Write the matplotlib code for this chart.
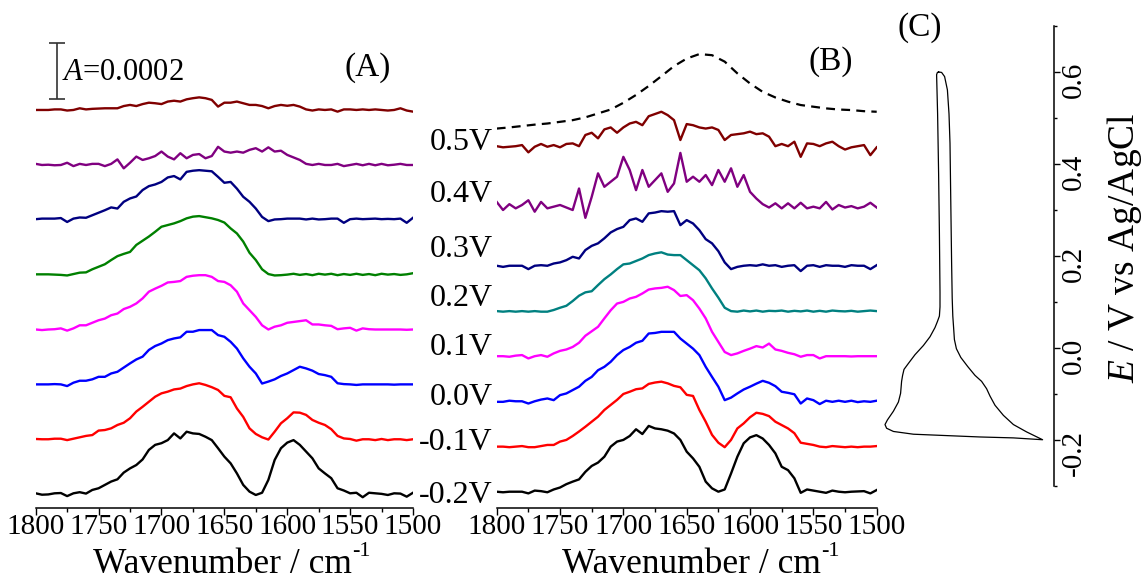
import numpy as np
import matplotlib
matplotlib.use("Agg")
import matplotlib.pyplot as plt
from matplotlib.ticker import MultipleLocator, FormatStrFormatter

plt.rcParams.update({
    "font.family": "Liberation Serif",
    "mathtext.fontset": "custom",
    "mathtext.rm": "Liberation Serif",
    "mathtext.it": "Liberation Serif:italic",
    "axes.unicode_minus": False,
})

# ---------------------------------------------------------------- data
# wavenumber grid (cm^-1), 1800 -> 1500 in 5 cm^-1 steps
wavenumber = np.arange(1800, 1495, -5)
# coarser grid for the dashed reference band
wavenumber_ref = np.arange(1800, 1495, -10)

# absorbance changes in units of 1e-5, panel (A), -0.2 V ... 0.5 V
a_n02 = [0, -0.5, -0.4, 0, 0.1, -1.0, 0, 0.4, -0.1, 1.2,
         1.8, 3.0, 4.2, 5.0, 7.4, 8.9, 10.1, 12.1, 15.5, 17.3,
         17.9, 19.0, 21.4, 19.6, 22.0, 21.4, 21.2, 20.2, 19.0, 16.1,
         13.1, 10.7, 7.1, 3.0, 0.6, -0.6, 0.2, 4.8, 11.9, 16.1,
         18.1, 19.0, 17.3, 14.9, 12.5, 8.9, 7.1, 5.4, 1.8, 1.0,
         0, 0.2, -1.4, 0.2, 0, -0.2, -0.6, 0, -0.1, -1.2, 0.2]
a_n01 = [0, -0.1, -0.1, 0.1, 0.1, -0.4, 0.1, 0.6, 1.1, 1.4,
         3.0, 3.2, 3.8, 5.0, 5.8, 7.4, 9.8, 11.5, 13.3, 15.1,
         16.3, 16.9, 17.7, 18.0, 18.9, 19.5, 19.9, 19.3, 18.5, 17.5,
         15.4, 14.9, 10.9, 7.9, 3.8, 1.8, 0.6, -0.2, 2.6, 5.6,
         7.4, 9.5, 9.4, 8.6, 6.8, 5.8, 5.0, 3.5, 1.1, 0.2,
         0, -0.6, -0.1, -0.1, -0.4, 0, -0.4, -0.1, -0.1, -0.4, -0.1]
a_p00 = [0, 0, 0, 0.1, 0, -0.6, 0.6, 1.3, 1.3, 1.8,
         2.7, 2.7, 3.9, 4.5, 6.0, 7.5, 8.9, 9.9, 12.3, 13.7,
         14.6, 15.8, 16.4, 16.8, 18.8, 18.8, 19.4, 19.4, 19.4, 17.6,
         17.0, 15.2, 12.8, 9.3, 6.3, 3.9, 0.3, 1.0, 1.8, 3.0,
         3.9, 5.1, 6.3, 5.7, 4.9, 3.7, 3.3, 2.7, 0.4, 0.1,
         0, -0.2, 0, 0, 0, 0, 0, -0.1, 0, 0, 0]
a_p01 = [0, -0.2, 0, 0.1, 0.4, -0.4, 0.4, 1.5, 1.5, 2.4,
         3.3, 3.9, 5.1, 5.7, 7.3, 8.1, 9.3, 11.1, 13.5, 14.6,
         15.6, 16.8, 17.0, 17.3, 18.8, 19.2, 19.4, 19.4, 18.8, 17.3,
         17.0, 15.8, 13.5, 9.3, 6.9, 4.5, 1.5, 0, 1.0, 1.5,
         2.4, 2.7, 3.0, 3.3, 1.8, 1.8, 1.5, 1.3, 0.1, 0.4,
         0.6, -0.4, 0.4, 0.1, 0, 0, 0, 0, 0, -0.1, 0]
a_p02 = [0, 0, 0, -0.1, -0.2, -0.4, 0.1, 0.6, 0.7, 1.8,
         2.7, 3.6, 5.1, 6.5, 7.3, 8.0, 10.5, 12.0, 13.5, 15.2,
         17.0, 17.6, 18.2, 19.0, 20.0, 20.6, 20.8, 20.4, 20.0, 19.4,
         18.5, 16.4, 14.6, 11.7, 7.7, 5.1, 1.8, 0.1, -0.4, -0.3,
         -0.1, 0.2, -0.2, 0.1, -0.3, 0.2, -0.1, 0.2, -0.3, 0.1,
         -0.2, 0.2, -0.2, 0.1, -0.3, 0.2, -0.1, 0.1, -0.2, 0, 0.4]
a_p03 = [0, 0.2, 0.2, 0.2, 0.4, -1.0, 0.2, 0.6, 0.5, 1.4,
         2.3, 3.2, 4.2, 3.8, 6.2, 7.4, 8.1, 10.4, 11.8, 12.4,
         13.3, 14.9, 15.4, 14.2, 16.9, 17.3, 17.5, 17.3, 17.1, 15.1,
         13.0, 13.3, 10.9, 8.0, 6.2, 3.8, 0.8, -0.7, -0.1, 0,
         0.2, 0.2, 0.2, -0.1, 0.2, -0.1, 0, 0.2, 0.2, -1.3,
         0, 0.2, 0, 0.1, 0.2, 0, 0.1, 0, 0.2, -1.3, 0.5]
a_p04 = [0.4, 0, 0.1, -0.1, 0, 0.8, -0.4, 0.4, 0, 0.4,
         0.4, -0.4, 0.4, 2.0, -1.2, 0.8, 3.0, 1.8, 2.4, 3.2,
         4.8, 3.0, 2.0, 4.2, 2.4, 3.6, 3.9, 2.4, 3.2, 6.5,
         4.8, 4.4, 4.8, 4.4, 5.4, 6.0, 4.8, 6.3, 4.8, 5.1,
         3.6, 2.7, 1.8, 0.4, 0, 0.4, 0, 0, 0.4, -0.4,
         0, 0.4, -0.1, 0.4, -0.1, 0.4, -0.1, 0.1, 0.4, 0, 0]
a_p05 = [0, 0, 0, 0.2, 0.2, -0.2, 0, 0.6, 0.2, 0.4,
         0.5, 0.6, 0.6, 0.6, 1.4, 1.8, 1.4, 2.1, 2.6, 2.4,
         2.1, 3.0, 3.3, 3.0, 3.8, 4.2, 4.5, 4.2, 3.6, 1.2,
         2.6, 2.6, 3.0, 2.4, 1.8, 1.8, 1.4, 0.6, 1.4, 1.8,
         1.5, 1.8, 1.2, 0.2, -0.2, 0.2, 0, 0.2, -0.6, 0.2,
         0.2, 0, 0.2, 0, 0.2, 0, -0.2, 0, 0.6, -0.2, -0.6]

# absorbance changes in units of 1e-5, panel (B), -0.2 V ... 0.5 V
b_n02 = [0, -0.2, 0, 0, 0, -0.6, 0.4, 0.2, -0.2, 0.8,
         1.5, 2.7, 3.6, 4.4, 7.1, 9.2, 10.4, 12.5, 16.1, 17.9,
         18.5, 19.9, 22.3, 20.6, 23.5, 22.6, 22.3, 21.8, 20.8, 18.5,
         14.3, 11.9, 8.9, 3.6, 1.2, 0, 0.8, 6.5, 12.5, 17.3,
         19.4, 20.2, 19.0, 16.7, 13.7, 8.9, 7.7, 4.8, -0.4, 0.8,
         0.4, 0, -0.4, 0.4, 0, -0.2, 0, 0.1, 0.2, -0.6, 0.6]
b_n01 = [0, 0, -0.2, 0, 0.2, -0.2, -0.2, 0.2, 0.6, 0.6,
         1.8, 2.4, 3.8, 5.4, 7.1, 8.9, 10.7, 13.1, 14.9, 16.7,
         18.8, 19.6, 20.5, 20.8, 22.4, 22.9, 23.2, 22.6, 21.7, 21.2,
         18.5, 18.1, 13.1, 8.9, 4.2, 1.4, -0.2, 2.4, 6.5, 8.3,
         10.5, 12.1, 11.7, 10.9, 8.9, 7.7, 6.5, 4.8, 1.4, 1.0,
         0.6, 0, -0.2, 0.2, 0, -0.2, 0, -0.2, 0, 0, 0.2]
b_p00 = [0, 0, 0.4, 0.2, 0.2, -0.6, 0.2, 0.8, 1.2, 0.6,
         2.4, 3.0, 4.2, 5.4, 7.5, 8.9, 11.3, 12.5, 14.3, 16.7,
         18.5, 19.6, 21.1, 21.8, 24.4, 24.6, 25.0, 25.0, 25.0, 22.6,
         20.8, 19.0, 16.7, 12.5, 8.9, 5.4, 0.6, 1.5, 3.0, 4.4,
         5.4, 6.5, 7.5, 6.8, 5.6, 3.6, 3.2, 2.7, -0.6, 1.2,
         0.6, -0.8, 0.4, 0, 0.4, 0, 0.4, -0.1, 0.2, 0, 0.4]
b_p01 = [0, 0, -0.2, 0.2, 0.4, -0.8, 0, 0.4, -0.2, 1.0,
         1.9, 2.4, 3.3, 4.8, 7.3, 8.9, 10.5, 13.5, 16.4, 18.8,
         19.4, 20.6, 21.2, 22.4, 23.8, 24.2, 24.4, 24.8, 23.6, 21.5,
         21.8, 20.0, 17.0, 13.5, 8.7, 5.1, 1.5, 0.4, 1.0, 1.9,
         2.7, 3.6, 3.1, 4.5, 2.4, 1.9, 1.2, 0.7, -0.2, 0.4,
         0.4, -0.8, 0, 0, 0, 0, -0.1, 0, 0, 0, 0]
b_p02 = [0, -0.2, 0, -0.2, 0, -0.2, 0, -0.2, -0.2, 0.4,
         1.2, 1.9, 3.6, 5.5, 6.7, 7.1, 9.3, 11.4, 13.1, 15.0,
         16.7, 17.0, 17.9, 18.8, 20.0, 20.6, 21.0, 20.2, 20.0, 20.0,
         18.2, 16.4, 14.6, 11.7, 8.1, 4.8, 1.2, 0, -0.2, 0.2,
         -0.1, 0.2, -0.2, 0.1, 0, 0.2, -0.2, 0.1, -0.1, 0.2,
         -0.2, 0.1, -0.2, 0.2, 0, -0.1, 0.1, -0.2, 0, 0.2, 0]
b_p03 = [0, -0.4, 0, 0, 0, -1.2, 0, 0.2, 0, 0.8,
         1.2, 2.0, 3.2, 2.6, 5.6, 7.1, 8.0, 9.8, 11.9, 13.1,
         13.9, 16.3, 16.9, 15.7, 18.7, 19.0, 19.5, 19.3, 19.5, 14.5,
         16.3, 15.1, 12.7, 9.5, 8.0, 5.2, 1.2, -1.2, -0.4, 0,
         0.2, 0, 0.5, 0, 0.2, -0.4, 0, 0.2, -1.9, 0,
         0.2, -0.4, 0.2, 0, 0, -0.4, 0.2, 0, 0, -1.2, 0.2]
b_p04 = [1.5, -1.4, 0.7, -0.8, 0.4, 2.1, -2.0, 1.5, -0.8, -0.2,
         0.4, -0.5, -1.4, 6.3, -4.2, 3.3, 11.7, 6.9, 8.7, 10.5,
         17.6, 12.9, 5.7, 12.9, 6.9, 9.3, 11.7, 5.1, 8.1, 19.0,
         8.7, 10.5, 8.7, 11.1, 7.5, 12.9, 8.7, 13.5, 6.9, 11.1,
         5.1, 2.7, 0.7, -0.5, 1.0, -0.8, 1.0, -0.8, 1.2, -0.8,
         -0.2, -0.8, 1.5, -1.2, 0.4, -0.5, 0, -0.8, -0.2, 1.2, -0.5]
b_p05 = [0.2, -0.2, 0, 0.2, 0.6, -2.0, 0, 1.0, 0, 0.6,
         -0.2, 1.0, 1.2, 0.2, 4.2, 5.0, 3.0, 6.2, 6.9, 5.0,
         6.9, 8.3, 8.9, 7.7, 10.9, 11.7, 12.5, 11.3, 9.5, 2.4,
         8.1, 7.7, 6.9, 6.5, 6.9, 6.0, 2.4, 4.2, 4.5, 4.8,
         5.4, 4.5, 4.8, 3.6, 0.2, 1.0, 0.2, 1.8, -3.6, 1.2,
         1.0, 0.2, 1.2, 1.8, 0.2, -1.0, -0.2, 0.2, 0.6, -3.0, -0.2]
# dashed reference band above the 0.5 V trace (units of 1e-5)
b_ref = [6.5, 6.9, 7.4, 7.9, 8.3, 8.9, 9.5, 10.5, 11.9, 13.3,
         15.7, 18.5, 21.7, 25.2, 28.8, 31.5, 33.1, 32.7, 30.4, 26.2,
         22.6, 19.6, 17.6, 16.1, 14.9, 14.3, 13.7, 13.3, 13.1, 12.7, 12.5]

potential_labels = ["-0.2V", "-0.1V", "0.0V", "0.1V", "0.2V", "0.3V", "0.4V", "0.5V"]

# cyclic voltammogram: potential (V vs Ag/AgCl) and current (uA)
cv_potential = [0.600, 0.599, 0.590, 0.561, 0.509, 0.445, 0.315, 0.186, 0.108, 0.069,
                0.044, 0.018, -0.002, -0.021, -0.041, -0.060, -0.073, -0.089, -0.105, -0.125,
                -0.147, -0.167, -0.183, -0.200, -0.196, -0.194, -0.191, -0.188, -0.182, -0.175,
                -0.167, -0.157, -0.138, -0.118, -0.099, -0.073, -0.060, -0.047, -0.034, -0.015,
                0.005, 0.024, 0.044, 0.057, 0.069, 0.089, 0.121, 0.251, 0.380, 0.509,
                0.594, 0.599, 0.600]
cv_current = [-2.7, -1.2, 0.3, 1.7, 2.5, 3.0, 3.4, 3.8, 4.1, 4.4,
              4.8, 5.2, 6.2, 8.4, 11.9, 15.5, 18.8, 21.3, 23.0, 25.5,
              29.7, 34.7, 41.3, 49.3, 34.7, 18.0, 1.3, -15.3, -25.3, -28.7,
              -29.5, -28.3, -25.3, -22.8, -21.7, -21.2, -20.7, -20.0, -17.8, -14.5,
              -10.3, -7.0, -4.5, -3.3, -2.3, -2.0, -2.0, -2.3, -2.7, -3.2,
              -3.7, -3.3, -2.7]

# ---------------------------------------------------------------- styling
W, H = 1143, 584
UNIT = 1e-5
colors_a = ["black", "red", "blue", "magenta", "green", "navy", "purple", "maroon"]
colors_b = ["black", "red", "blue", "magenta", "#008080", "navy", "purple", "maroon"]
offsets_a = [0, 19.4, 38.9, 58.5, 78.2, 97.9, 117.25, 136.9]
offsets_b = [0, 16.1, 32.1, 48.4, 64.5, 80.7, 102.0, 123.2]
label_y_b = [-4.0, 15.0, 31.1, 49.0, 66.3, 83.9, 103.6, 122.0]
TICK_FS = 21


def rect(x0, y0, x1, y1):
    """Axes rectangle from pixel edges (origin top-left)."""
    return [x0 / W, 1 - y1 / H, (x1 - x0) / W, (y1 - y0) / H]


def fx(x):
    return x / W


def fy(y):
    return 1 - y / H


fig = plt.figure(figsize=(W / 100, H / 100), dpi=100)
axA = fig.add_axes(rect(35.7, 10, 413, 507.7))
axB = fig.add_axes(rect(496.7, 10, 876.7, 507.7))
axC = fig.add_axes(rect(880, 26, 1054, 485.7))

for ax in (axA, axB):
    for side in ("left", "right", "top"):
        ax.spines[side].set_visible(False)
    ax.spines["bottom"].set_linewidth(1.1)
    ax.set_yticks([])
    ax.set_xlim(1800, 1500)
    ax.xaxis.set_major_locator(MultipleLocator(50))
    ax.xaxis.set_minor_locator(MultipleLocator(25))
    ax.xaxis.set_major_formatter(FormatStrFormatter("%d"))
    ax.tick_params(axis="x", which="major", direction="out", length=5.2, width=1.0,
                   labelsize=TICK_FS, pad=-1)
    ax.tick_params(axis="x", which="minor", direction="out", length=3.0, width=1.0)
    ax.patch.set_alpha(0)

axA.set_ylim(-5.14 * UNIT, 172.6 * UNIT)
axB.set_ylim(-5.71 * UNIT, 172.04 * UNIT)

series_a = [a_n02, a_n01, a_p00, a_p01, a_p02, a_p03, a_p04, a_p05]
series_b = [b_n02, b_n01, b_p00, b_p01, b_p02, b_p03, b_p04, b_p05]

for vals, off, col in zip(series_a, offsets_a, colors_a):
    axA.plot(wavenumber, (np.asarray(vals) + off) * UNIT, color=col, lw=1.7)
for vals, off, col in zip(series_b, offsets_b, colors_b):
    axB.plot(wavenumber, (np.asarray(vals) + off) * UNIT, color=col, lw=1.7)

axB.plot(wavenumber_ref, (np.asarray(b_ref) + offsets_b[-1]) * UNIT, color="black",
         lw=1.6, linestyle=(0, (4.0, 2.8)))

for lab, yl in zip(potential_labels, label_y_b):
    axB.text(1803, yl * UNIT, lab, ha="right", va="baseline", fontsize=23, clip_on=False)

# absorbance scale bar
axA.errorbar(1782.8, 150.8 * UNIT, yerr=10 * UNIT, fmt="none", ecolor="#333333",
             elinewidth=1.2, capsize=5.8, capthick=1.2)
fig.text(fx(62), fy(80), "$A$=0.0002", ha="left", va="baseline", fontsize=22)

# cyclic voltammogram
axC.plot(cv_current, cv_potential, color="black", lw=0.9)
axC.set_xlim(-32, 55)
axC.set_ylim(-0.3, 0.7)
axC.set_xticks([])
for side in ("left", "bottom", "top"):
    axC.spines[side].set_visible(False)
axC.spines["right"].set_linewidth(1.1)
axC.yaxis.tick_right()
axC.yaxis.set_major_locator(MultipleLocator(0.2))
axC.yaxis.set_minor_locator(MultipleLocator(0.1))
axC.yaxis.set_major_formatter(FormatStrFormatter("%.1f"))
axC.tick_params(axis="y", which="major", direction="out", length=4.3, width=1.0,
                labelsize=TICK_FS, pad=1, labelrotation=90)
axC.tick_params(axis="y", which="minor", direction="out", length=2.5, width=1.0)
axC.patch.set_alpha(0)

# axis titles with a hyphen superscript, and panel letters
fig.canvas.draw()
renderer = fig.canvas.get_renderer()
for xc in (222, 691):
    t = fig.text(fx(xc), fy(573), "Wavenumber / cm", ha="center", va="baseline", fontsize=25.5)
    bb = t.get_window_extent(renderer)
    fig.text((bb.x1 + 1) / W, fy(542), "-1", ha="left", va="top", fontsize=16)

fig.text(fx(1124), fy(248), "$E$ / V vs Ag/AgCl", ha="center", va="center",
         rotation=90, fontsize=27)
fig.text(fx(368), fy(68), "(A)", ha="center", va="center", fontsize=24)
fig.text(fx(831), fy(62), "(B)", ha="center", va="center", fontsize=24)
fig.text(fx(920), fy(28), "(C)", ha="center", va="center", fontsize=24)

fig.savefig("out.png", dpi=100)
